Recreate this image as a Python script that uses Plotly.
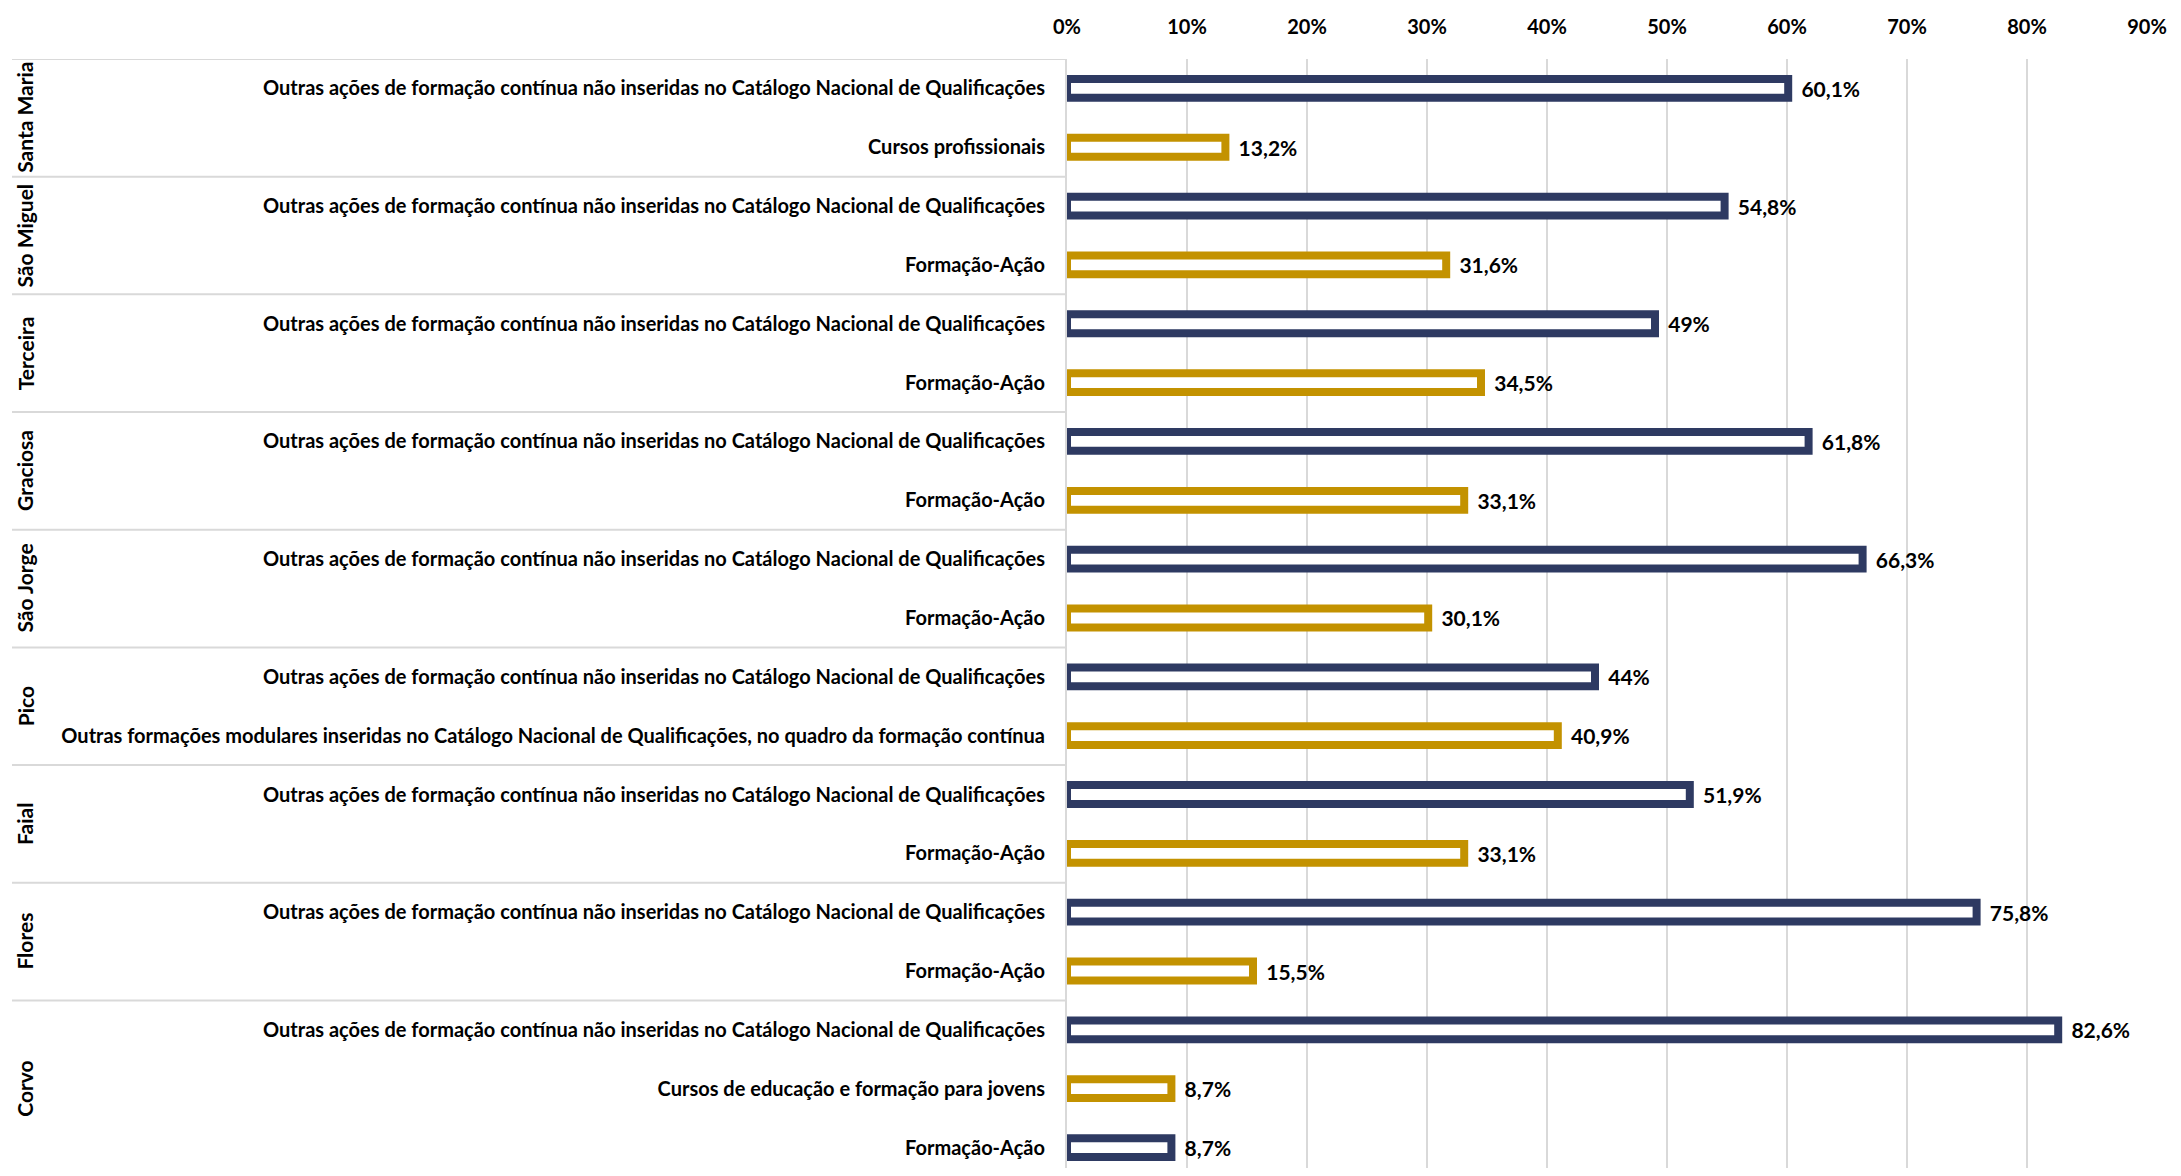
import plotly.graph_objects as go

islands = ["Santa Maria", "São Miguel", "Terceira", "Graciosa", "São Jorge",
           "Pico", "Faial", "Flores", "Corvo"]

OUTRAS = "Outras ações de formação contínua não inseridas no Catálogo Nacional de Qualificações"
group_labels = [
    [OUTRAS, "Cursos profissionais"],
    [OUTRAS, "Formação-Ação"],
    [OUTRAS, "Formação-Ação"],
    [OUTRAS, "Formação-Ação"],
    [OUTRAS, "Formação-Ação"],
    [OUTRAS, "Outras formações modulares inseridas no Catálogo Nacional de Qualificações, no quadro da formação contínua"],
    [OUTRAS, "Formação-Ação"],
    [OUTRAS, "Formação-Ação"],
    [OUTRAS, "Cursos de educação e formação para jovens", "Formação-Ação"],
]
group_values = [
    [60.1, 13.2],
    [54.8, 31.6],
    [49.0, 34.5],
    [61.8, 33.1],
    [66.3, 30.1],
    [44.0, 40.9],
    [51.9, 33.1],
    [75.8, 15.5],
    [82.6, 8.7, 8.7],
]
NAVY = "#2E3A62"
GOLD = "#C39200"
group_colors = [
    [NAVY, GOLD], [NAVY, GOLD], [NAVY, GOLD], [NAVY, GOLD], [NAVY, GOLD],
    [NAVY, GOLD], [NAVY, GOLD], [NAVY, GOLD], [NAVY, GOLD, NAVY],
]
x_ticks = [0, 10, 20, 30, 40, 50, 60, 70, 80, 90]

FONT = "Lato"
FS = 20

labels, values, colors, ypos, texts = [], [], [], [], []
group_bounds = []
i = 0
for g, (lbls, vals, cols) in enumerate(zip(group_labels, group_values, group_colors)):
    start = i
    for l, v, c in zip(lbls, vals, cols):
        labels.append(l)
        values.append(v / 100)
        colors.append(c)
        ypos.append(i)
        if float(v).is_integer():
            texts.append(f"{int(v)}%")
        else:
            texts.append(f"{v:.1f}".replace(".", ",") + "%")
        i += 1
    group_bounds.append((start, i - 1))
n = i

# page body has an 8px margin: figure origin is at (8, 8) on the page
W, H = 2165, 1160
L_page, R_page, T_page, B_page = 1067, 2147, 59, 1168
L, R, T = L_page - 8, R_page - 8, T_page - 8
PW = R - L
ROW = 58.84
span = (B_page - T_page) / ROW

fig = go.Figure()
fig.add_trace(go.Bar(
    x=values, y=ypos, orientation="h",
    width=0.32,
    marker=dict(color="white", line=dict(color=colors, width=8)),
    text=texts, textposition="outside", constraintext="none",
    texttemplate="  %{text}",
    textfont=dict(family=FONT, size=21, color="black", weight="bold"),
    hoverinfo="skip",
))

shapes = []
annotations = []
x_line0 = (12 - L_page) / PW
x_lab = (25 - L_page) / PW
for (s, e), name in zip(group_bounds, islands):
    shapes.append(dict(type="line", xref="paper", yref="y",
                       x0=x_line0, x1=0, y0=s - 0.5, y1=s - 0.5,
                       line=dict(color="#D9D9D9", width=2)))
    annotations.append(dict(xref="paper", yref="y", x=x_lab, y=(s + e) / 2,
                            text=name, textangle=-90, showarrow=False,
                            font=dict(family=FONT, size=21, color="black", weight="bold"),
                            xanchor="center", yanchor="middle"))

fig.update_layout(
    width=W, height=H,
    margin=dict(l=L, r=W - R, t=T, b=0),
    paper_bgcolor="white", plot_bgcolor="white",
    showlegend=False,
    shapes=shapes, annotations=annotations,
    font=dict(family=FONT, size=FS, color="black"),
    xaxis=dict(
        side="top", range=[0, 0.9],
        tickvals=[t / 100 for t in x_ticks],
        ticktext=[f"{t}%" for t in x_ticks],
        showgrid=True, gridcolor="#D9D9D9", gridwidth=1.5,
        zeroline=False, showline=False, ticks="",
        tickfont=dict(family=FONT, size=FS, color="black", weight="bold"),
        ticklabelstandoff=20,
    ),
    yaxis=dict(
        range=[span - 0.5, -0.5],
        tickvals=ypos, ticktext=labels,
        showgrid=False, zeroline=False,
        showline=True, linecolor="#D9D9D9", linewidth=2,
        ticks="",
        tickfont=dict(family=FONT, size=FS, color="black", weight="bold"),
        ticklabelstandoff=16,
    ),
)

fig.write_html("out.html")
